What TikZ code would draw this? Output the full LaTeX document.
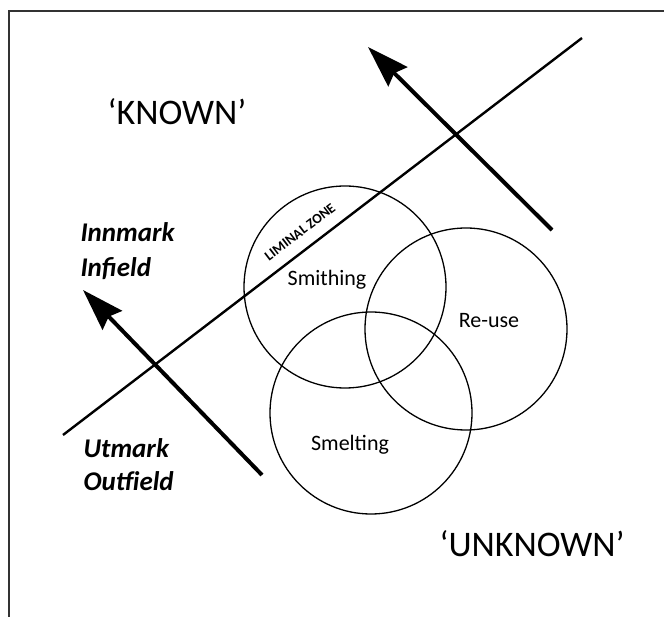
\documentclass[tikz,border=0pt]{standalone}
\usepackage{fontspec}
\setmainfont{Carlito}
\usetikzlibrary{arrows.meta}
\tikzset{
  venn/.style={draw=black, line width=1.3pt},
  bigarrow/.style={line width=4pt, -{Stealth[length=42pt,width=27pt,inset=5pt]}},
  divider/.style={line width=2.4pt},
  bigtext/.style={font=\fontsize{36}{40}\selectfont, anchor=base},
  placetext/.style={font=\fontsize{27}{32}\selectfont\bfseries\itshape, anchor=base west},
  circtext/.style={font=\fontsize{22}{26}\selectfont, anchor=base},
}
\begin{document}
\begin{tikzpicture}[x=1pt,y=-1pt]
\useasboundingbox (0,0) rectangle (664,617);
% frame (partially visible)
\coordinate (fbl) at (9,617);
\coordinate (ftl) at (9,11);
\coordinate (ftr) at (664,11);
\draw[line width=1.6pt, black!80] (fbl) -- (ftl) -- (ftr);
% circles
\node[venn, circle, minimum size=202pt, inner sep=0pt] (smith) at (345,287) {};
\node[venn, circle, minimum size=202pt, inner sep=0pt] (reuse) at (466,329) {};
\node[venn, circle, minimum size=202pt, inner sep=0pt] (smelt) at (371,413) {};
% dividing line
\coordinate (la) at (63,435);
\coordinate (lb) at (582,38);
\draw[divider] (la) -- (lb);
% arrows
\coordinate (a1s) at (262,475);
\coordinate (a1e) at (83,290);
\coordinate (a2s) at (552,230);
\coordinate (a2e) at (368,47);
\draw[bigarrow] (a1s) -- (a1e);
\draw[bigarrow] (a2s) -- (a2e);
% labels
\node[bigtext] (known) at (177,125) {‘KNOWN’};
\node[bigtext] (unknown) at (532,556) {‘UNKNOWN’};
\node[placetext] (inn) at (77,242) {Innmark};
\node[placetext] (inf) at (77,277) {Infield};
\node[placetext] (utm) at (80,457) {Utmark};
\node[placetext] (outf) at (80,490) {Outfield};
\node[circtext] (tsmith) at (327,286) {Smithing};
\node[circtext] (treuse) at (489,328) {Re-use};
\node[circtext] (tsmelt) at (350,450) {Smelting};
\node[font=\fontsize{14}{16}\selectfont\bfseries, rotate=37.4] (lim) at (300,232) {LIMINAL ZONE};
\end{tikzpicture}
\end{document}
